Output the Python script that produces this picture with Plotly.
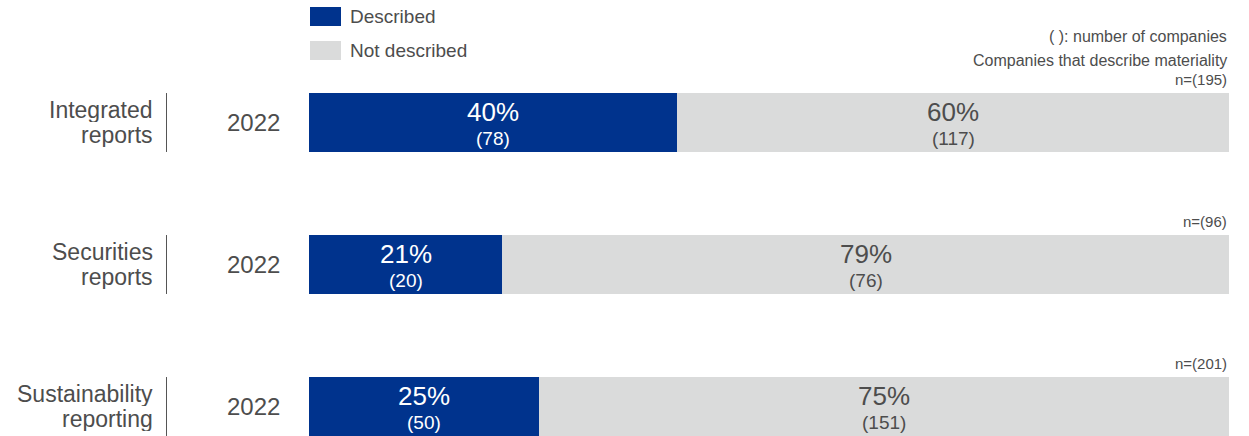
import plotly.graph_objects as go

# Data
categories = ["Integrated reports", "Securities reports", "Sustainability reporting"]
years = ["2022", "2022", "2022"]
described_pct = [40, 21, 25]
not_described_pct = [60, 79, 75]
described_n = [78, 20, 50]
not_described_n = [117, 76, 151]
totals = [195, 96, 201]

BLUE = "#00338D"
GRAY = "#DADBDB"
TEXT = "#4d4d4d"
FONT = "Liberation Sans"

W, H = 1249, 436
ML, MR = 309, 20
PW = W - ML - MR

ypos = list(range(len(categories)))
bar_w = 0.415


def px_x(p):
    return (p - ML) / PW


def px_y(p):
    return 1 - p / H


fig = go.Figure()
fig.add_trace(go.Bar(
    y=ypos, x=described_pct, orientation="h", marker_color=BLUE,
    marker_line_width=0, width=bar_w, name="Described", showlegend=False,
    hoverinfo="skip",
))
fig.add_trace(go.Bar(
    y=ypos, x=not_described_pct, base=described_pct, orientation="h",
    marker_color=GRAY, marker_line_width=0, width=bar_w,
    name="Not described", showlegend=False, hoverinfo="skip",
))

ann = []
shapes = []
for i, k in enumerate(ypos):
    d, nd = described_pct[i], not_described_pct[i]
    # in-bar labels
    for xc, pct, cnt, col in [(d / 2, d, described_n[i], "white"),
                              (d + nd / 2, nd, not_described_n[i], TEXT)]:
        ann.append(dict(x=xc, y=k, xref="x", yref="y", text=f"{pct}%",
                        showarrow=False, yshift=11, xanchor="center",
                        font=dict(family=FONT, size=26, color=col)))
        ann.append(dict(x=xc, y=k, xref="x", yref="y", text=f"({cnt})",
                        showarrow=False, yshift=-16, xanchor="center",
                        font=dict(family=FONT, size=19, color=col)))
    # n label above bar
    ann.append(dict(x=1, y=k - bar_w / 2, xref="paper", yref="y",
                    text=f"n=({totals[i]})", showarrow=False,
                    xanchor="right", yanchor="bottom", yshift=3,
                    font=dict(family=FONT, size=15, color=TEXT)))
    # category label, two tightly spaced lines
    first, second = categories[i].split(" ", 1)
    for line, shift in [(first, 12.5), (second, -12.5)]:
        ann.append(dict(x=px_x(154), y=k, xref="paper", yref="y",
                        text=line, showarrow=False, xanchor="right",
                        yanchor="middle", yshift=shift, height=24,
                        valign="middle", borderpad=0,
                        font=dict(family=FONT, size=23, color=TEXT)))
    # year label
    ann.append(dict(x=px_x(282), y=k, xref="paper", yref="y",
                    text=years[i], showarrow=False, xanchor="right",
                    yanchor="middle",
                    font=dict(family=FONT, size=24, color=TEXT)))
    # separator line
    shapes.append(dict(type="line", xref="paper", yref="y",
                       x0=px_x(166.5), x1=px_x(166.5),
                       y0=k - bar_w / 2, y1=k + bar_w / 2,
                       line=dict(color="#555555", width=1)))

# legend swatches
for j, (label, col) in enumerate([("Described", BLUE), ("Not described", GRAY)]):
    top = 7 + j * 34
    shapes.append(dict(type="rect", xref="paper", yref="paper",
                       x0=px_x(310), x1=px_x(341), y0=px_y(top + 19), y1=px_y(top),
                       fillcolor=col, line_width=0))
    ann.append(dict(x=px_x(348), y=px_y(top + 9.5), xref="paper", yref="paper",
                    text=label, showarrow=False, xanchor="left", yanchor="middle",
                    font=dict(family=FONT, size=19, color=TEXT)))

ann.append(dict(x=1, y=px_y(37), xref="paper", yref="paper",
                text="( ): number of companies", showarrow=False,
                xanchor="right", yanchor="middle",
                font=dict(family=FONT, size=16, color=TEXT)))
ann.append(dict(x=1, y=px_y(60), xref="paper", yref="paper",
                text="Companies that describe materiality", showarrow=False,
                xanchor="right", yanchor="middle",
                font=dict(family=FONT, size=16, color=TEXT)))

fig.update_layout(
    width=W, height=H, barmode="overlay",
    margin=dict(l=ML, r=MR, t=0, b=0, pad=0),
    paper_bgcolor="white", plot_bgcolor="white",
    xaxis=dict(range=[0, 100], visible=False, fixedrange=True),
    yaxis=dict(range=[(H - 122.5) / 142, -122.5 / 142], visible=False,
               fixedrange=True),
    annotations=ann, shapes=shapes,
)

fig.write_html("out.html", config={"displayModeBar": False})
